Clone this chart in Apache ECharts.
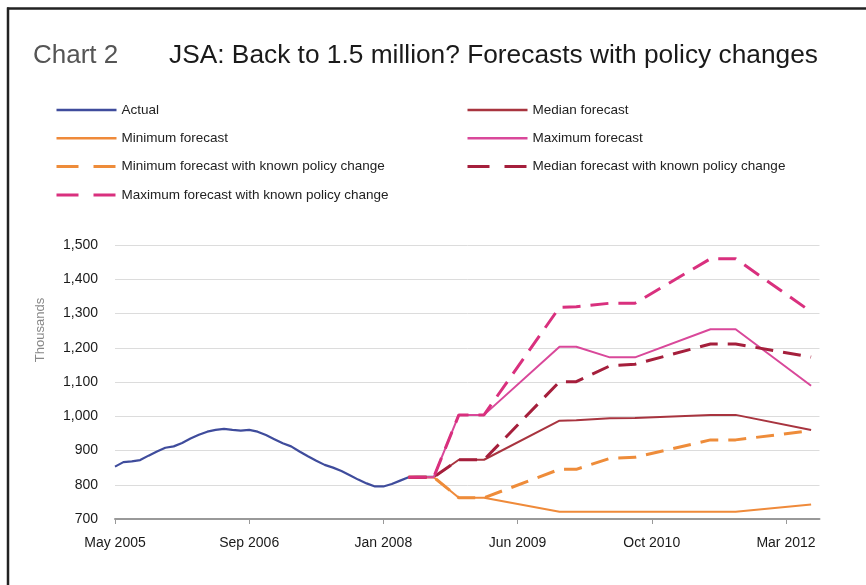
<!DOCTYPE html>
<html><head><meta charset="utf-8">
<script src="https://cdn.jsdelivr.net/npm/echarts@6/dist/echarts.min.js"></script>
<style>html,body{margin:0;padding:0;background:#fff}#c{width:866px;height:585px}</style>
</head><body><div id="c"></div>
<script>
const tickLabels = ['May 2005','Sep 2006','Jan 2008','Jun 2009','Oct 2010','Mar 2012'];
const categoryCount = 85;
const tickStep = 16;
const actual = [853,866,868,872,885,897,908,912,922,935,946,955,960,963,960,958,960,955,945,933,921,912,897,883,870,858,850,840,828,815,804,795,795,802,812,822,823,823,823];
const forecastIdx = [35,38,41,44,53,55,59,62,71,74,83];
const medianForecast = [822,822,873,873,987,988,994,995,1004,1004,960];
const minimumForecast = [822,822,762,762,721,721,721,721,721,721,742];
const maximumForecast = [822,822,1004,1004,1203,1203,1172,1172,1254,1254,1089];
const minPolicy = [822,822,762,762,845,845,877,880,931,931,958];
const medPolicy = [822,822,873,873,1101,1101,1147,1152,1211,1211,1173];
const maxPolicy = [822,822,1004,1004,1318,1320,1330,1330,1460,1460,1305];

const categories = Array.from({length: categoryCount}, (_, i) => (i % tickStep === 0 && tickLabels[i / tickStep]) ? tickLabels[i / tickStep] : '');
const place = vals => categories.map((_, i) => { const k = forecastIdx.indexOf(i); return k >= 0 ? vals[k] : null; });
const FONT = '"Liberation Sans", Arial, sans-serif';

function line(name, data, color, width, dashed, z) {
  return {
    name, type: 'line', data, symbol: 'none', connectNulls: true, z,
    lineStyle: {color, width, type: dashed ? [18, 10] : 'solid'},
    itemStyle: {color}
  };
}
const solidItem = name => ({name, lineStyle: {width: 2.6}});
const dashItem = name => ({name, lineStyle: {width: 3, type: [22, 15]}});

const chart = echarts.init(document.getElementById('c'), null, {renderer: 'canvas'});
chart.setOption({
  animation: false,
  backgroundColor: '#fff',
  textStyle: {fontFamily: FONT},
  graphic: [
    {type: 'line', shape: {x1: 7, y1: 8.5, x2: 866, y2: 8.5}, style: {stroke: '#222', lineWidth: 2.5}},
    {type: 'line', shape: {x1: 8, y1: 7.5, x2: 8, y2: 585}, style: {stroke: '#222', lineWidth: 2.5}},
    {type: 'text', left: 33, top: 43, style: {text: 'Chart 2', fontSize: 26, fill: '#555', fontFamily: FONT}},
    {type: 'text', left: 169, top: 43, style: {text: 'JSA: Back to 1.5 million? Forecasts with policy changes', fontSize: 26.3, fill: '#1a1a1a', fontFamily: FONT}},
    {type: 'text', x: 40, y: 330, rotation: Math.PI / 2, style: {text: 'Thousands', fontSize: 13, fill: '#888', fontFamily: FONT, align: 'center', verticalAlign: 'middle'}}
  ],
  legend: [
    {left: 50, top: 98, orient: 'vertical', itemWidth: 60, itemHeight: 14, itemGap: 14.3,
     itemStyle: {opacity: 0},
     textStyle: {fontSize: 13.5, color: '#222', fontFamily: FONT},
     data: [solidItem('Actual'), solidItem('Minimum forecast'), dashItem('Minimum forecast with known policy change'), dashItem('Maximum forecast with known policy change')]},
    {left: 461, top: 98, orient: 'vertical', itemWidth: 60, itemHeight: 14, itemGap: 14.3,
     itemStyle: {opacity: 0},
     textStyle: {fontSize: 13.5, color: '#222', fontFamily: FONT},
     data: [solidItem('Median forecast'), solidItem('Maximum forecast'), dashItem('Median forecast with known policy change')]}
  ],
  grid: {left: 115, right: 46.5, top: 245, bottom: 66, containLabel: false},
  xAxis: {
    type: 'category', data: categories, boundaryGap: false,
    axisLine: {lineStyle: {color: '#999', width: 2}},
    axisTick: {show: true, interval: tickStep - 1, length: 5, lineStyle: {color: '#999'}},
    axisLabel: {interval: tickStep - 1, margin: 17, fontSize: 14, color: '#1a1a1a', fontFamily: FONT},
    splitLine: {show: false}
  },
  yAxis: {
    type: 'value', min: 700, max: 1500, interval: 100,
    axisLine: {show: false}, axisTick: {show: false},
    axisLabel: {margin: 17, fontSize: 14, color: '#1a1a1a', fontFamily: FONT, formatter: v => v.toLocaleString('en-US')},
    splitLine: {lineStyle: {color: '#dcdcdc', width: 1}}
  },
  series: [
    line('Actual', actual, '#3f4c9c', 2.2, false, 2),
    line('Median forecast', place(medianForecast), '#a8343f', 2, false, 3),
    line('Minimum forecast', place(minimumForecast), '#ef8a3a', 2, false, 3),
    line('Maximum forecast', place(maximumForecast), '#d9489a', 2, false, 3),
    line('Minimum forecast with known policy change', place(minPolicy), '#ee8c3a', 3, true, 4),
    line('Median forecast with known policy change', place(medPolicy), '#a51f3c', 3, true, 4),
    line('Maximum forecast with known policy change', place(maxPolicy), '#d9307e', 3, true, 4)
  ]
});
</script></body></html>
